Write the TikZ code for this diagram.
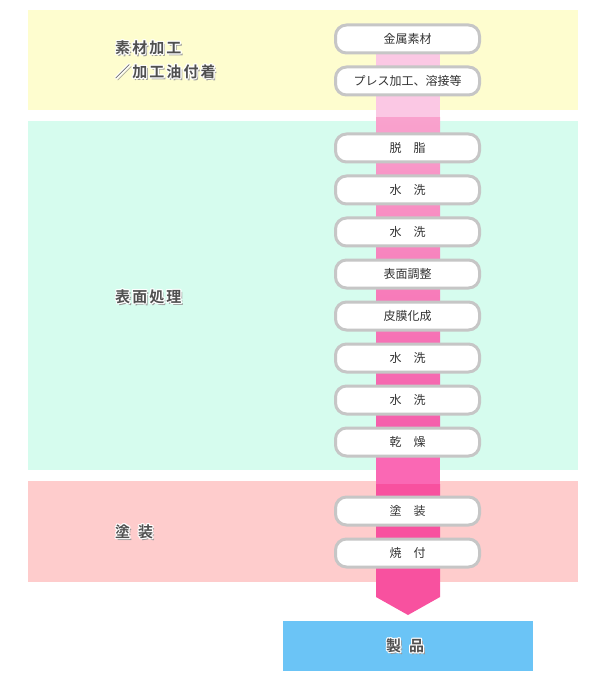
\documentclass[tikz,border=0pt]{standalone}
\usepackage{fontspec}
\newfontfamily\jp{Noto Sans CJK JP}
\newfontfamily\jpb[LetterSpace=14]{Noto Sans CJK JP Bold}
\definecolor{bandY}{HTML}{FEFDCF}
\definecolor{bandC}{HTML}{D6FCEE}
\definecolor{bandP}{HTML}{FECCCC}
\definecolor{prodB}{HTML}{6BC4F6}
\definecolor{boxline}{HTML}{C6C6C6}
\definecolor{txt}{HTML}{333333}
\definecolor{lbl}{HTML}{505050}
\definecolor{pinkT}{HTML}{FBC8E4}
\definecolor{pinkA}{HTML}{F9A2CD}
\definecolor{pinkM}{HTML}{F55EAB}
\definecolor{pinkG}{HTML}{FA68B4}
\definecolor{pinkB}{HTML}{F8519F}
\tikzset{
  stepbox/.style={draw=boxline, line width=3pt, fill=white, rounded corners=11pt,
    minimum width=144pt, minimum height=28pt, inner sep=0pt, font=\jp\fontsize{12}{14}\selectfont, text=txt},
  lblfont/.style={font=\jpb\fontsize{15}{17}\selectfont, anchor=west, inner sep=0pt},
  halo/.style={lblfont, text=white},
  shadowtxt/.style={lblfont, text=black!40},
  lbltxt/.style={lblfont, text=lbl},
}
\newcommand{\haloLabel}[3]{%
  \node[shadowtxt] at (#1+1.8,#2+1.8) {#3};
  \foreach \dx/\dy in {-1.2/0,1.2/0,0/-1.2,0/1.2,-0.9/-0.9,0.9/0.9,-0.9/0.9,0.9/-0.9}
    {\node[halo] at (#1+\dx,#2+\dy) {#3};}
  \node[lbltxt] at (#1,#2) {#3};
}
\begin{document}
\begin{tikzpicture}[x=1pt,y=-1pt]
\useasboundingbox (0,0) rectangle (590,684);
% bands
\fill[bandY] (28,10) rectangle (578,110);
\fill[bandC] (28,121) rectangle (578,470);
\fill[bandP] (28,481) rectangle (578,582);
% flow bar with arrow head
\fill[pinkT] (376,39) rectangle (440,118.5);
\shade[top color=pinkA, bottom color=pinkM] (376,118) rectangle (440,430);
\fill[pinkG] (376,429.5) rectangle (440,484.5);
\fill[pinkB] (376,484) -- (440,484) -- (440,597) -- (408,615) -- (376,597) -- cycle;
% product
\node[fill=prodB, minimum width=250pt, minimum height=50pt, inner sep=0pt] (prod) at (408,646) {};
% steps
\node[stepbox] (s1) at (407.5,39) {金属素材};
\node[stepbox] (s2) at (407.5,81) {プレス加工、溶接等};
\node[stepbox] (s3) at (407.5,148) {脱　脂};
\node[stepbox] (s4) at (407.5,190) {水　洗};
\node[stepbox] (s5) at (407.5,232) {水　洗};
\node[stepbox] (s6) at (407.5,274) {表面調整};
\node[stepbox] (s7) at (407.5,316) {皮膜化成};
\node[stepbox] (s8) at (407.5,358) {水　洗};
\node[stepbox] (s9) at (407.5,400) {水　洗};
\node[stepbox] (s10) at (407.5,442) {乾　燥};
\node[stepbox] (s11) at (407.5,511) {塗　装};
\node[stepbox] (s12) at (407.5,553) {焼　付};
% labels
\haloLabel{115}{48}{素材加工}
\haloLabel{115}{72}{／加工油付着}
\haloLabel{115}{297}{表面処理}
\haloLabel{115}{532}{塗\hspace{8pt}装}
\haloLabel{386}{646}{製\hspace{8pt}品}
\end{tikzpicture}
\end{document}
